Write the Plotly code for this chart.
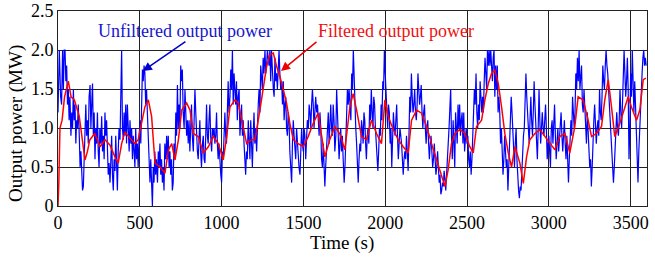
import plotly.graph_objects as go

# Filtered output power (MW) vs time (s)
filtered_time = [0, 5, 12, 25, 40, 63, 80, 100, 130, 150, 165, 180, 195, 225, 257, 287, 318, 348, 368, 389,
                 409, 440, 470, 490, 511, 531, 552, 572, 593, 623, 654, 675, 695, 715, 736, 756, 786, 807, 827, 857,
                 888, 919, 949, 980, 1010, 1031, 1051, 1082, 1102, 1122, 1153, 1183, 1204, 1234, 1255, 1275, 1295,
                 1316, 1336, 1356, 1377, 1397, 1417, 1438, 1468, 1499, 1529, 1560, 1590, 1610, 1631, 1661, 1692,
                 1722, 1753, 1784, 1804, 1825, 1855, 1886, 1916, 1947, 1977, 1998, 2018, 2049, 2079, 2110, 2140,
                 2161, 2192, 2222, 2253, 2283, 2314, 2344, 2365, 2385, 2405, 2426, 2456, 2487, 2517, 2538, 2558,
                 2589, 2609, 2630, 2650, 2670, 2691, 2711, 2731, 2752, 2772, 2793, 2823, 2844, 2864, 2884, 2915,
                 2945, 2976, 3006, 3037, 3067, 3098, 3128, 3159, 3179, 3210, 3240, 3261, 3291, 3322, 3342, 3363,
                 3383, 3403, 3434, 3464, 3485, 3505, 3536, 3556, 3577, 3593]
filtered_power = [0.0, 0.3, 1.0, 1.1, 1.4, 1.6, 1.4, 1.36, 1.15, 0.85, 0.59, 0.7, 0.85, 0.93, 0.76, 0.85, 0.78, 0.63, 0.55, 0.8,
                  0.95, 0.87, 0.8, 0.85, 1.06, 1.27, 1.36, 1.15, 0.55, 0.5, 0.42, 0.72, 0.8, 0.59, 0.85, 1.23, 1.32, 1.23, 0.93, 0.89,
                  0.68, 0.76, 0.89, 0.8, 0.59, 0.89, 1.27, 1.36, 1.32, 1.1, 0.8, 0.85, 0.85, 1.23, 1.53, 1.79, 1.94,
                  1.96, 1.79, 1.66, 1.49, 1.32, 1.06, 0.85, 0.8, 0.76, 0.89, 1.06, 1.19, 0.93, 0.63, 0.85, 1.02,
                  0.93, 0.72, 1.27, 1.44, 1.23, 0.89, 0.85, 1.1, 0.93, 0.8, 1.36, 1.15, 0.98, 0.85, 0.76, 0.68,
                  1.1, 1.23, 1.19, 1.02, 0.8, 0.59, 0.38, 0.25, 0.47, 0.8, 0.93, 0.98, 0.93, 0.76, 0.68, 1.02,
                  1.1, 1.36, 1.57, 1.7, 1.74, 1.57, 1.27, 0.93, 0.68, 0.5, 0.76, 0.55, 0.29, 0.63, 0.85, 0.93,
                  0.98, 0.89, 0.8, 0.72, 0.89, 0.93, 0.68, 1.02, 1.4, 1.36, 1.1, 0.89, 0.93, 1.02, 1.36, 1.62,
                  1.27, 0.89, 1.06, 1.27, 1.4, 1.27, 1.1, 1.23, 1.62, 1.64]

# Unfiltered output power (MW) vs time (s)
unfiltered_time = [
    0, 2, 8, 16, 22, 28, 33, 38, 43, 48, 53, 58, 63, 68, 73, 79, 84, 89, 94, 99, 104, 109, 114, 119, 124, 130,
    135, 140, 145, 150, 155, 160, 165, 170, 175, 180, 185, 190, 196, 201, 206, 211, 216, 221, 226, 231, 236,
    241, 246, 251, 256, 262, 267, 272, 277, 282, 287, 292, 297, 302, 307, 312, 318, 323, 328, 333, 338, 343,
    348, 353, 358, 363, 368, 373, 379, 384, 389, 394, 399, 404, 409, 414, 419, 424, 430, 435, 440, 445, 450,
    455, 460, 465, 470, 475, 480, 485, 490, 496, 501, 506, 511, 516, 521, 526, 531, 536, 541, 547, 552, 557, 562,
    567, 572, 577, 582, 587, 592, 597, 602, 608, 613, 618, 623, 628, 633, 638, 643, 648, 653, 659, 664, 669,
    674, 679, 684, 689, 694, 699, 704, 709, 715, 720, 725, 730, 735, 740, 745, 750, 755, 760, 765, 771, 776,
    781, 786, 791, 796, 801, 806, 811, 816, 821, 827, 832, 837, 842, 847, 852, 857, 862, 867, 872, 877, 883,
    888, 893, 898, 903, 908, 913, 918, 923, 928, 933, 939, 944, 949, 954, 959, 964, 969, 974, 979, 984, 989,
    995, 1000, 1005, 1010, 1015, 1020, 1025, 1030, 1035, 1040, 1045, 1051, 1056, 1061, 1066, 1071, 1076, 1081,
    1086, 1091, 1096, 1101, 1107, 1112, 1117, 1122, 1127, 1132, 1137, 1142, 1147, 1152, 1157, 1163, 1168, 1173,
    1178, 1183, 1188, 1193, 1198, 1203, 1208, 1214, 1219, 1224, 1229, 1234, 1239, 1244, 1249, 1254, 1259, 1265,
    1270, 1275, 1280, 1285, 1290, 1295, 1300, 1305, 1310, 1316, 1321, 1326, 1331, 1336, 1341, 1346, 1351, 1356,
    1361, 1367, 1372, 1377, 1382, 1387, 1392, 1397, 1402, 1407, 1412, 1417, 1422, 1428, 1433, 1438, 1443, 1448,
    1453, 1458, 1463, 1468, 1473, 1479, 1484, 1489, 1494, 1499, 1504, 1509, 1514, 1519, 1524, 1530, 1535, 1540,
    1545, 1550, 1555, 1560, 1565, 1570, 1575, 1581, 1586, 1591, 1596, 1601, 1606, 1611, 1616, 1621, 1626, 1631,
    1636, 1641, 1647, 1652, 1657, 1662, 1667, 1672, 1677, 1682, 1687, 1692, 1698, 1703, 1708, 1713, 1718, 1723,
    1728, 1733, 1738, 1743, 1749, 1754, 1759, 1764, 1769, 1774, 1779,
    1785, 1790, 1795, 1800, 1805, 1810, 1815, 1820, 1825, 1830, 1835, 1840, 1845, 1850, 1855, 1860, 1865, 1870,
    1875, 1880, 1885, 1890, 1895, 1900, 1905, 1910, 1915, 1920, 1925, 1930, 1935, 1940, 1945, 1950, 1955, 1960,
    1965, 1970, 1975, 1980, 1985, 1990, 1995, 2000, 2005, 2010, 2015, 2020, 2025, 2030, 2035, 2040, 2045, 2050,
    2055, 2060, 2065, 2070, 2075, 2080, 2085, 2090, 2095, 2100, 2105, 2110, 2115, 2120, 2125, 2130, 2135, 2140,
    2145, 2150, 2155, 2160, 2165, 2170, 2175, 2180, 2185, 2190, 2195, 2200, 2205, 2210, 2215, 2220, 2225, 2230,
    2235, 2240, 2245, 2250, 2255, 2260, 2265, 2270, 2275, 2280, 2285, 2290, 2295, 2300, 2305, 2310, 2315, 2320,
    2325, 2330, 2335, 2340, 2345, 2350, 2355, 2360, 2365, 2370, 2375, 2380, 2385, 2390, 2395,
    2400, 2405, 2410, 2415, 2420, 2425, 2430, 2435, 2440, 2445, 2450, 2455, 2460, 2465, 2470, 2475, 2480, 2485,
    2490, 2495, 2500, 2505, 2510, 2515, 2520, 2525, 2530, 2535, 2540, 2545, 2550, 2555, 2560, 2565, 2570, 2575,
    2580, 2585, 2590, 2595, 2600, 2605, 2610, 2615, 2620, 2625, 2630, 2635, 2640, 2645, 2650, 2655, 2660, 2665,
    2670, 2675, 2680, 2685, 2690, 2695, 2700, 2705, 2710, 2715, 2720, 2725, 2730, 2735, 2740, 2745, 2750, 2755,
    2760, 2765, 2770, 2775, 2780, 2785, 2790, 2795, 2800, 2805, 2810, 2815, 2820, 2825, 2830, 2835, 2840, 2845,
    2850, 2855, 2860, 2865, 2870, 2875, 2880, 2885, 2890, 2895, 2900, 2905, 2910, 2915, 2920, 2925, 2930, 2935,
    2940, 2945, 2950, 2955, 2960, 2965, 2970, 2975, 2980, 2985, 2990, 2995, 3000, 3005, 3010,
    3015, 3020, 3025, 3030, 3035, 3040, 3045, 3050, 3055, 3060, 3065, 3070, 3075, 3080, 3085, 3090, 3095, 3100,
    3105, 3110, 3115, 3120, 3125, 3130, 3135, 3140, 3145, 3150, 3155, 3160, 3165, 3170, 3175, 3180, 3185, 3190,
    3195, 3200, 3205, 3210, 3215, 3220, 3225, 3230, 3235, 3240, 3245, 3250, 3255, 3260, 3265, 3270, 3275, 3280,
    3285, 3290, 3295, 3300, 3305, 3310, 3315, 3320, 3325, 3330, 3335, 3340, 3345, 3350, 3355, 3360, 3365, 3370,
    3375, 3380, 3385, 3390, 3395, 3400, 3405, 3410, 3415, 3420, 3425, 3430, 3435, 3440, 3445, 3450, 3455, 3460,
    3465, 3470, 3475, 3480, 3485, 3490, 3495, 3500, 3505, 3510, 3515, 3520, 3525, 3530, 3535, 3540, 3545, 3550,
    3555, 3560, 3565, 3570, 3575, 3580, 3585, 3590, 3595]
unfiltered_power = [
    1.2, 1.6, 2.0, 1.4, 1.3, 2.0, 1.5, 2.0, 2.0, 1.6, 1.8, 1.3, 1.5, 1.1, 1.4, 0.9, 1.2, 1.0, 1.5, 1.1, 1.3, 0.8, 1.1, 1.0, 1.3, 0.9,
    0.5, 0.7, 0.4, 0.2, 0.25, 0.6, 0.9, 1.3, 0.9, 1.1, 0.8, 1.4, 1.55, 1.0, 1.3, 1.57, 0.9, 1.2, 0.6, 1.0, 0.8,
    1.2, 0.7, 0.5, 1.0, 0.8, 1.15, 0.7, 0.9, 0.6, 1.2, 0.9, 1.1, 0.6, 0.4, 0.55, 0.3, 0.6, 0.9, 0.4, 0.2, 0.6,
    0.45, 0.9, 0.6, 0.2, 0.7, 1.0, 0.85, 1.3, 2.0, 1.0, 0.85, 1.2, 0.9, 1.3, 0.8, 1.3, 1.0, 0.7, 1.1, 0.8, 1.0,
    0.6, 0.9, 0.7, 0.5, 1.0, 0.6, 0.8, 0.5, 0.9, 1.1, 0.8, 1.4, 1.75, 1.6, 1.8, 1.7, 1.3, 1.5, 1.2, 0.8, 0.5, 0.3,
    0.6, 0.1, 0.0, 0.5, 0.3, 0.7, 0.4, 0.6, 0.3, 0.7, 0.5, 0.8, 0.4, 0.6, 0.3, 0.5, 0.2, 0.8, 0.6, 0.9, 0.6,
    0.9, 0.5, 0.7, 0.4, 0.6, 0.2, 0.3, 0.8, 0.6, 1.2, 0.9, 1.55, 1.0, 1.3, 1.0, 1.8, 1.6, 1.75, 1.2, 1.0, 1.5,
    1.2, 0.9, 1.1, 0.8, 1.1, 0.7, 1.0, 1.3, 0.9, 0.7, 1.1, 1.5, 1.2, 0.9, 0.7, 0.6, 0.9, 1.1, 0.7, 0.5, 0.8,
    0.9, 0.6, 0.55, 0.9, 1.3, 0.9, 0.8, 1.1, 1.3, 0.9, 0.7, 1.0, 0.9, 1.0, 0.8, 0.9, 1.2, 0.8, 0.6, 0.8, 0.5,
    0.4, 0.3, 0.7, 0.6, 1.0, 1.2, 0.9, 0.8, 1.2, 1.6, 1.2, 1.4, 1.75, 1.5, 2.0, 1.3, 1.7, 1.5,
    1.3, 1.6, 1.1, 1.4, 1.5, 0.9, 1.2, 1.3, 0.9, 1.1, 0.8, 0.6, 0.4, 0.7, 0.6, 1.1, 0.9, 0.6,
    1.1, 0.8, 0.5, 0.9, 1.2, 0.8, 1.0, 0.7, 1.1, 1.3, 1.5, 1.2, 1.8, 1.6, 1.5, 1.9, 1.7, 2.0,
    1.7, 1.8, 2.0, 1.9, 1.8, 2.0, 1.6, 2.0, 1.7, 1.5, 1.4, 1.9, 1.6, 1.7, 1.5, 1.8, 2.0, 1.7,
    1.5, 1.6, 1.3, 1.6, 1.1, 1.3, 1.4, 1.0, 0.9, 1.2, 1.1, 0.7, 0.5, 0.3, 0.8, 1.1, 0.9, 0.7,
    0.6, 1.0, 0.8, 0.6, 0.5, 0.4, 0.8, 1.0, 0.8, 0.7, 1.0, 0.9, 0.6, 0.8, 1.1, 1.0, 1.3, 1.2,
    1.0, 1.3, 1.5, 1.3, 1.0, 1.2, 1.4, 1.2, 1.3, 1.1, 0.9, 1.2, 1.0, 0.6, 0.5, 0.8, 0.4, 0.25,
    0.5, 0.7, 1.0, 1.2, 0.8, 1.1, 1.3, 1.0, 0.9, 1.3, 1.1, 0.7, 0.9, 1.5, 1.2, 1.0, 0.6, 0.8,
    1.0, 0.7, 0.9, 0.6, 0.3, 0.5, 0.9, 1.2, 1.5, 1.3, 1.5,
    1.3, 1.1, 1.7, 1.5, 2.0, 1.6, 1.3, 1.0, 0.8, 0.6, 0.3, 0.6, 0.8, 0.7, 1.1, 1.0, 0.8, 1.2,
    1.1, 0.8, 0.6, 0.9, 1.0, 0.8, 1.3, 1.1, 1.5, 1.2, 1.0, 1.4, 1.3, 1.0, 0.8, 0.6, 0.45, 0.7,
    1.0, 0.9, 1.3, 1.1, 1.6, 1.5, 2.0, 1.7, 1.4, 1.2, 1.0, 1.3, 1.2, 0.8, 1.0, 0.5, 0.8, 1.2,
    1.0, 0.9, 1.1, 1.3, 0.9, 0.6, 0.8, 1.0, 0.9, 0.8, 0.6, 0.4, 0.6, 0.7, 0.6, 0.9, 0.7, 0.45,
    0.9, 1.4, 1.2, 1.7, 1.4, 1.2, 1.3, 1.5, 1.2, 1.1, 1.3, 1.7, 1.5, 1.3, 1.4, 1.55, 1.2, 1.0,
    1.2, 1.3, 1.0, 0.8, 1.0, 1.1, 0.8, 0.6, 0.8, 0.9, 0.7, 0.5, 0.6, 0.8, 0.6, 0.4, 0.5, 0.7,
    0.5, 0.3, 0.4, 0.15, 0.2, 0.3, 0.25, 0.45, 0.35, 0.2, 0.4, 0.7, 0.8, 1.0, 1.3,
    1.5, 0.9, 0.6, 1.1, 0.8, 0.5, 1.2, 0.9, 0.8, 1.3, 1.0, 1.3, 0.9, 1.1, 1.2, 0.8, 1.2, 0.7,
    0.9, 1.0, 0.8, 0.9, 0.6, 0.5, 0.7, 0.4, 0.6, 0.9, 1.2, 1.5, 1.3, 1.7, 1.2, 1.0, 1.3, 1.1,
    1.6, 1.3, 1.2, 1.4, 1.2, 1.6, 1.9, 1.7, 1.5, 2.0, 1.8, 2.0, 1.8, 2.0, 1.7, 1.6, 1.9, 2.0,
    1.4, 1.8, 1.5, 1.8, 1.2, 1.4, 1.2, 0.8, 1.0, 0.7, 0.4, 0.6, 0.9, 0.7, 0.5, 0.6, 0.2, 0.5,
    0.8, 1.1, 1.4, 1.2, 0.9, 0.7, 0.5, 0.8, 1.0, 0.6, 0.3, 0.2, 0.1, 0.25, 0.2, 0.5, 0.7, 0.9,
    1.0, 1.3, 1.7, 1.4, 1.2, 1.0, 0.8, 1.1, 1.4, 1.1, 0.9, 1.2, 1.6, 1.3, 1.0, 0.8, 0.6, 1.0,
    1.5, 1.1, 0.8, 1.0, 1.2, 1.0, 0.9, 1.1, 1.3, 1.0, 0.6, 0.8, 0.9, 0.7, 0.5,
    1.0, 1.1, 0.8, 1.1, 1.3, 0.9, 0.6, 0.8, 1.0, 0.7, 0.9, 1.1, 1.2, 0.9, 0.7, 0.9, 1.1, 0.8,
    0.6, 0.9, 0.5, 0.3, 0.6, 0.8, 1.1, 0.9, 1.4, 1.2, 1.0, 1.2, 1.7, 1.5, 1.9, 1.6, 2.0, 1.5,
    1.7, 1.8, 1.3, 1.2, 1.5, 1.3, 1.0, 0.8, 1.2, 1.0, 0.7, 0.5, 0.6, 0.25, 0.5, 0.9, 1.1, 1.3,
    1.0, 0.8, 1.0, 1.1, 0.9, 1.5, 1.2, 1.1, 1.4, 1.8, 1.6, 1.5, 1.8, 2.0, 1.8, 1.7, 1.5, 1.3,
    1.1, 0.9, 0.6, 0.4, 0.3, 0.5, 0.7, 0.9, 1.2, 1.0, 0.9, 1.1, 1.5, 1.2, 1.0, 1.3, 1.6, 2.0,
    1.7, 1.4, 1.6, 1.9, 1.5, 0.6, 1.0, 1.7, 1.4, 2.0, 1.6, 1.2, 1.6, 1.3, 0.9, 0.6, 0.3, 0.7,
    1.0, 1.3, 1.5, 1.7, 1.9, 2.0, 1.8, 1.9, 1.8]

x_ticks = [0, 500, 1000, 1500, 2000, 2500, 3000, 3500]
y_ticks = [0, 0.5, 1.0, 1.5, 2.0, 2.5]
y_tick_labels = ["0", "0.5", "1.0", "1.5", "2.0", "2.5"]

FONT = "Liberation Serif, Times New Roman, serif"
W, H = 655, 265
ML, MR, MT, MB = 58, 8, 11, 59

fig = go.Figure()
fig.add_trace(go.Scatter(x=unfiltered_time, y=unfiltered_power, mode="lines",
                         line=dict(color="#0000FF", width=1.2), name="Unfiltered output power"))
fig.add_trace(go.Scatter(x=filtered_time, y=filtered_power, mode="lines",
                         line=dict(color="#FF0000", width=1.5), name="Filtered output power"))

# arrows
fig.add_annotation(x=519, y=1.73, ax=788, ay=2.12, axref="x", ayref="y", xref="x", yref="y",
                   text="", showarrow=True, arrowhead=2, arrowsize=1.2, arrowwidth=1.5, arrowcolor="#0000CC")
fig.add_annotation(x=1363, y=1.73, ax=1589, ay=2.12, axref="x", ayref="y", xref="x", yref="y",
                   text="", showarrow=True, arrowhead=2, arrowsize=1.2, arrowwidth=1.5, arrowcolor="#EE0000")
# labels
fig.add_annotation(x=776, y=2.24, xref="x", yref="y", text="Unfiltered output power", showarrow=False,
                   xanchor="center", yanchor="middle",
                   font=dict(family=FONT, size=18, color="#1515CC"))
fig.add_annotation(x=2068, y=2.24, xref="x", yref="y", text="Filtered output power", showarrow=False,
                   xanchor="center", yanchor="middle",
                   font=dict(family=FONT, size=18, color="#EE1111"))

# axis titles (placed to match the reference)
pw = W - ML - MR
ph = H - MT - MB
fig.add_annotation(xref="paper", yref="paper", x=(342 - ML) / pw, y=(H - MB - 243) / ph,
                   xanchor="center", yanchor="middle",
                   text="Time (s)", showarrow=False, font=dict(family=FONT, size=19, color="black"))
fig.add_annotation(xref="paper", yref="paper", x=(16 - ML) / pw, y=(H - MB - 124) / ph,
                   xanchor="center", yanchor="middle",
                   text="Output power (MW)", textangle=-90, showarrow=False,
                   font=dict(family=FONT, size=19, color="black"))

fig.update_layout(
    width=W, height=H,
    margin=dict(l=ML, r=MR, t=MT, b=MB),
    paper_bgcolor="white", plot_bgcolor="white",
    showlegend=False,
    font=dict(family=FONT, size=18, color="black"),
)
fig.update_xaxes(range=[0, 3600], tickvals=x_ticks, showgrid=True, gridcolor="#222222", gridwidth=1,
                 showline=True, linecolor="#222222", linewidth=1, mirror=True, zeroline=False,
                 ticks="", ticklabelstandoff=0, tickfont=dict(family=FONT, size=18), automargin=False)
fig.update_yaxes(range=[0, 2.5], tickvals=y_ticks, ticktext=y_tick_labels, showgrid=True, gridcolor="#222222",
                 gridwidth=1, showline=True, linecolor="#222222", linewidth=1, mirror=True, zeroline=False,
                 ticks="", ticklabelstandoff=0, tickfont=dict(family=FONT, size=18), automargin=False)

fig.write_html("out.html", config={"displayModeBar": False},
               post_script="document.body.style.margin='0';document.body.style.padding='0';")
